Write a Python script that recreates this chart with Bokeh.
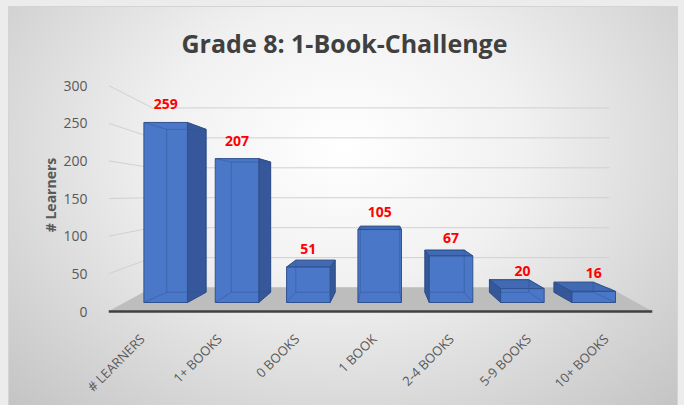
from math import pi
from bokeh.plotting import figure
from bokeh.models import Range1d, FixedTicker
from bokeh.embed import file_html
from bokeh.resources import INLINE
from bokeh.core.properties import value

# ---- data ----
categories = ["# LEARNERS", "1+ BOOKS", "0 BOOKS", "1 BOOK", "2-4 BOOKS", "5-9 BOOKS", "10+ BOOKS"]
learners = [259, 207, 51, 105, 67, 20, 16]
y_ticks = [0, 50, 100, 150, 200, 250, 300]

# ---- 3-D view parameters (style) ----
CX, CV = 3.05, 155.0          # vanishing centre (data units)
BAR_FRONT, BAR_BACK = 0.923, 0.835
WALL_SX, WALL_SY = 0.84, 0.795
HALF_W = 0.305
X0, X1 = -0.5045, 6.533
Y0, Y1 = -2.65, 312.0
LABEL_DX = -0.07              # small shift of rotated category labels

FONT = "Open Sans"


def proj(x, v, sx, sy):
    return CX + (x - CX) * sx, CV + (v - CV) * sy


p = figure(width=684, height=405, x_range=Range1d(X0, X1), y_range=Range1d(Y0, Y1),
           output_backend="svg", toolbar_location=None,
           min_border_left=108, min_border_right=32, min_border_top=76, min_border_bottom=92)
p.background_fill_color = None
p.border_fill_color = None
p.outline_line_color = None
p.styles = {"background": (
    "radial-gradient(ellipse farthest-corner at 50% 35%, #ffffff 0%, #f1f1f1 38%, #c4c4c4 100%) "
    "9px 7px / 668px 398px no-repeat, "
    "linear-gradient(#d4d4d4, #d4d4d4) 8px 6px / 670px 399px no-repeat, #ececec")}
p.grid.visible = False

# title
p.title.text = "Grade 8: 1-Book-Challenge"
p.title.text_font = FONT
p.title.text_font_size = "25px"
p.title.text_font_style = "bold"
p.title.text_color = "#404040"
p.title.align = "left"
p.title.offset = 73
p.title.standoff = 33

# wall gridlines (side wall + back wall)
gx, gy = [], []
for t in y_ticks:
    bx0, by = proj(X0, t, WALL_SX, WALL_SY)
    bx1, _ = proj(X1, t, WALL_SX, WALL_SY)
    gx.append([X0, bx0, bx1])
    gy.append([t, by, by])
p.multi_line(gx, gy, line_color="#d0d0d0", line_width=1)

# floor
fbx0, fby = proj(X0, 0, WALL_SX, WALL_SY)
fbx1, _ = proj(X1, 0, WALL_SX, WALL_SY)
p.patch([X0, X1, fbx1, fbx0], [0, 0, fby, fby], fill_color="#bdbdbd", line_color=None)
p.line([X0, X1], [0, 0], line_color="#404040", line_width=2.5)

# bars
side_xs, side_ys, top_xs, top_ys, front_xs, front_ys = [], [], [], [], [], []
hid_xs, hid_ys = [], []
lab_x, lab_y, lab_t = [], [], []
for i, v in enumerate(learners):
    xl, xr = i - HALF_W, i + HALF_W
    corners = {"lb": (xl, 0), "rb": (xr, 0), "rt": (xr, v), "lt": (xl, v)}
    F = {k: proj(x, y, BAR_FRONT, BAR_FRONT) for k, (x, y) in corners.items()}
    B = {k: proj(x, y, BAR_BACK, BAR_BACK) for k, (x, y) in corners.items()}
    if xr < CX:
        pts = [F["rb"], F["rt"], B["rt"], B["rb"]]
        side_xs.append([q[0] for q in pts]); side_ys.append([q[1] for q in pts])
    if xl > CX:
        pts = [F["lb"], F["lt"], B["lt"], B["lb"]]
        side_xs.append([q[0] for q in pts]); side_ys.append([q[1] for q in pts])
    if v < CV:
        pts = [F["lt"], F["rt"], B["rt"], B["lt"]]
        top_xs.append([q[0] for q in pts]); top_ys.append([q[1] for q in pts])
    pts = [F["lb"], F["rb"], F["rt"], F["lt"]]
    front_xs.append([q[0] for q in pts]); front_ys.append([q[1] for q in pts])
    pts = [B["lb"], B["rb"], B["rt"], B["lt"], B["lb"]]
    hid_xs.append([q[0] for q in pts]); hid_ys.append([q[1] for q in pts])
    for k in ("lb", "rb", "rt", "lt"):
        hid_xs.append([F[k][0], B[k][0]]); hid_ys.append([F[k][1], B[k][1]])
    cx_, cy_ = proj(i, v, BAR_FRONT, BAR_FRONT)
    lab_x.append(cx_); lab_y.append(cy_); lab_t.append(str(v))

p.patches(side_xs, side_ys, fill_color="#36589a", line_color="#2b4c86", line_width=1)
p.patches(top_xs, top_ys, fill_color="#4169b4", line_color="#2f528f", line_width=1)
p.patches(front_xs, front_ys, fill_color="#4a77c8", line_color="#2f528f", line_width=1)
p.multi_line(hid_xs, hid_ys, line_color="#2f528f", line_alpha=0.45, line_width=1)

# data labels
p.text(lab_x, lab_y, text=lab_t, text_color="#ff0000", text_font=value(FONT),
       text_font_size="14px", text_font_style="bold", text_align="center",
       text_baseline="middle", y_offset=-18)

# y axis
ya = p.yaxis[0]
ya.ticker = FixedTicker(ticks=y_ticks)
ya.axis_line_color = None
ya.major_tick_line_color = None
ya.minor_tick_line_color = None
ya.major_label_standoff = 15
ya.major_label_text_font = FONT
ya.major_label_text_font_size = "14px"
ya.major_label_text_color = "#595959"
ya.axis_label = "# Learners"
ya.axis_label_text_font = FONT
ya.axis_label_text_font_size = "14px"
ya.axis_label_text_font_style = "bold"
ya.axis_label_text_color = "#595959"
ya.axis_label_standoff = 0

# x axis with rotated category labels
cat_ticks = [i + LABEL_DX for i in range(len(categories))]
xa = p.xaxis[0]
xa.ticker = FixedTicker(ticks=cat_ticks)
xa.major_label_overrides = {t: c for t, c in zip(cat_ticks, categories)}
xa.major_label_orientation = pi / 4
xa.axis_line_color = None
xa.major_tick_line_color = None
xa.minor_tick_line_color = None
xa.major_label_standoff = 17
xa.major_label_text_font = FONT
xa.major_label_text_font_size = "13px"
xa.major_label_text_color = "#595959"

open("out.html", "w").write(file_html(p, INLINE))
